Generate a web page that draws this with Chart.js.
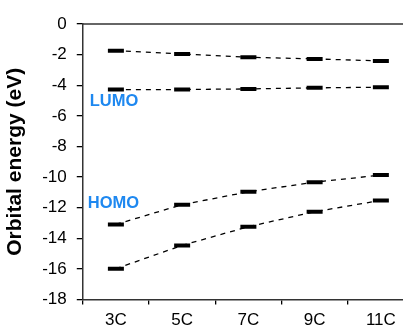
<!doctype html>
<html lang="en">
<head>
<meta charset="UTF-8">
<title>Orbital energy</title>
<script src="https://cdn.jsdelivr.net/npm/chart.js@4/dist/chart.umd.min.js"></script>
<style>
	html, body { margin: 0; padding: 0; background: #fff; overflow: hidden; }
	canvas { display: block; }
</style>
</head>
<body>
<canvas id="chart-area" width="403" height="325"></canvas>
<script>
	// chain length categories
	var labels = ['3C', '5C', '7C', '9C', '11C'];
	// orbital energies in eV
	var lumo1 = [-1.74, -1.96, -2.17, -2.28, -2.41];
	var lumo  = [-4.28, -4.28, -4.24, -4.17, -4.13];
	var homo  = [-13.09, -11.80, -10.96, -10.33, -9.87];
	var homo1 = [-15.98, -14.46, -13.24, -12.26, -11.52];
	// y tick range
	var yMin = -18, yMax = 0, yStep = 2;
	// x range in category slots; the original is cropped part way into the last slot
	var xMin = 0.5, xMax = 5.334;

	var FONT = 'Arial, "Liberation Sans", sans-serif';
	var BLUE = '#1e88f0';

	function level(vals) {
		return {
			data: vals.map(function(v, i) { return { x: i + 1, y: v }; }),
			borderColor: '#000',
			borderWidth: 1.3,
			borderDash: [5, 5],
			pointStyle: 'line',
			pointRadius: 8,
			pointHoverRadius: 8,
			pointBorderWidth: 4,
			pointBorderColor: '#000',
			pointBackgroundColor: '#000',
			fill: false,
			tension: 0
		};
	}

	// top frame line + the LUMO / HOMO tags
	var extras = {
		id: 'extras',
		afterDraw: function(chart) {
			var ctx = chart.ctx, a = chart.chartArea, y = chart.scales.y;
			ctx.save();
			ctx.strokeStyle = '#333';
			ctx.lineWidth = 1.5;
			ctx.beginPath();
			ctx.moveTo(a.left, a.top);
			ctx.lineTo(a.right, a.top);
			ctx.stroke();
			ctx.fillStyle = BLUE;
			ctx.font = 'bold 16.5px ' + FONT;
			ctx.textBaseline = 'middle';
			ctx.textAlign = 'left';
			ctx.fillText('LUMO', a.left + 7, y.getPixelForValue(-5.05));
			ctx.fillText('HOMO', a.left + 5, y.getPixelForValue(-11.73));
			ctx.restore();
		}
	};

	var config = {
		type: 'line',
		data: {
			datasets: [level(lumo1), level(lumo), level(homo), level(homo1)]
		},
		options: {
			responsive: false,
			animation: false,
			layout: { autoPadding: false, padding: { top: 24, left: 3, right: 0, bottom: -12 } },
			plugins: { legend: { display: false }, tooltip: { enabled: false } },
			scales: {
				x: {
					type: 'linear',
					min: xMin,
					max: xMax,
					afterBuildTicks: function(scale) {
						scale.ticks = labels.map(function(l, i) { return { value: i + 1 }; });
					},
					afterFit: function(scale) {
						scale.paddingLeft = 0;
						scale.paddingRight = 0;
					},
					grid: { offset: true, drawOnChartArea: false, tickLength: 5, color: '#000', lineWidth: 1.3 },
					border: { color: '#333', width: 1.5 },
					ticks: {
						color: '#000',
						font: { family: FONT, size: 17 },
						padding: 6,
						maxRotation: 0,
						callback: function(v) { return labels[Math.round(v) - 1]; }
					}
				},
				y: {
					min: yMin,
					max: yMax,
					grid: { drawOnChartArea: false, tickLength: 6, color: '#000', lineWidth: 1.3 },
					border: { color: '#333', width: 1.5 },
					ticks: { stepSize: yStep, color: '#000', font: { family: FONT, size: 17 }, padding: 10 },
					title: {
						display: true,
						text: 'Orbital energy (eV)',
						color: '#000',
						font: { family: FONT, size: 21, weight: 'bold' },
						padding: { top: 0, bottom: 4 }
					}
				}
			}
		},
		plugins: [extras]
	};

	window.onload = function() {
		var ctx = document.getElementById('chart-area').getContext('2d');
		window.myChart = new Chart(ctx, config);
	};
</script>
</body>
</html>
